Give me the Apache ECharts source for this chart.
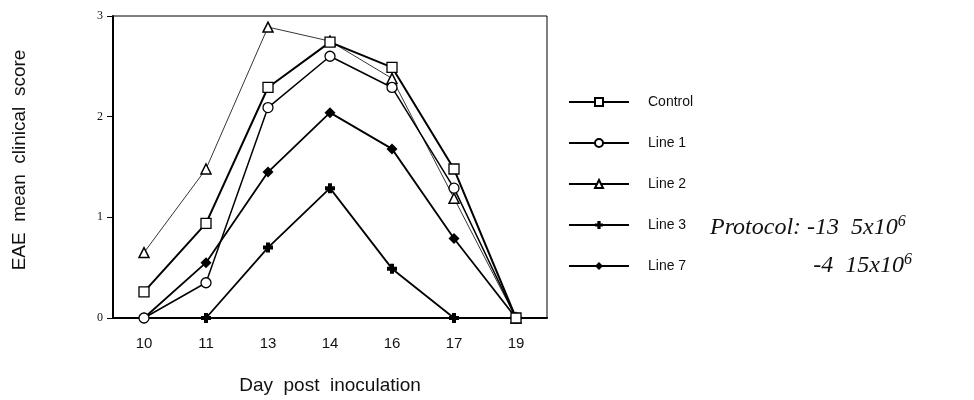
<!DOCTYPE html>
<html>
<head>
<meta charset="utf-8">
<script src="https://cdn.jsdelivr.net/npm/echarts@6/dist/echarts.min.js"></script>
<style>html,body{margin:0;padding:0;background:#fff}#c{width:974px;height:400px}</style>
</head>
<body>
<div id="c"></div>
<script>
var days = ['10', '11', '13', '14', '16', '17', '19'];
var yTicks = [0, 1, 2, 3];
var control = [0.26, 0.94, 2.29, 2.74, 2.49, 1.48, 0];
var line1 = [0, 0.35, 2.09, 2.6, 2.29, 1.29, 0];
var line2 = [0.65, 1.48, 2.89, 2.75, 2.38, 1.19, 0];
var line3 = [null, 0, 0.7, 1.29, 0.49, 0, null];
var line7 = [0, 0.55, 1.45, 2.04, 1.68, 0.79, 0];
var legendNames = ['Control', 'Line 1', 'Line 2', 'Line 3', 'Line 7'];

var crossPath = 'path://M3,0H7V3H10V7H7V10H3V7H0V3H3Z';
var chart = echarts.init(document.getElementById('c'), null, {renderer: 'canvas'});

function mk(name, data, symbol, size, lw, fill, bw) {
  return {
    name: name, type: 'line', data: data, symbol: symbol, symbolSize: size,
    showAllSymbol: true,
    lineStyle: {color: '#000', width: lw},
    itemStyle: {color: fill, borderColor: '#000', borderWidth: bw},
    emphasis: {disabled: true},
    animation: false
  };
}

var supRich = {
  a: {fontFamily: 'Liberation Serif', fontStyle: 'italic', fontSize: 24, fill: '#111', lineHeight: 28},
  b: {fontFamily: 'Liberation Serif', fontStyle: 'italic', fontSize: 16, fill: '#111', verticalAlign: 'top', lineHeight: 28}
};

chart.setOption({
  backgroundColor: '#fff',
  animation: false,
  grid: {left: 113, right: 427, top: 16, bottom: 79, show: true, borderColor: '#000', borderWidth: 1},
  xAxis: {
    type: 'category', data: days, boundaryGap: true,
    axisLine: {lineStyle: {color: '#000', width: 2}},
    axisTick: {alignWithLabel: true, length: 5, lineStyle: {color: '#000', width: 1.5}},
    axisLabel: {color: '#111', fontFamily: 'Liberation Sans', fontSize: 15, margin: 18},
    splitLine: {show: false},
    name: 'Day  post  inoculation', nameLocation: 'middle', nameGap: 58,
    nameTextStyle: {color: '#111', fontFamily: 'Liberation Sans', fontSize: 19}
  },
  yAxis: {
    type: 'value', min: yTicks[0], max: yTicks[yTicks.length - 1], interval: 1,
    axisLine: {show: true, lineStyle: {color: '#000', width: 2}},
    axisTick: {show: true, length: 6, lineStyle: {color: '#000', width: 1}},
    axisLabel: {color: '#111', fontFamily: 'Liberation Serif', fontSize: 12, margin: 10},
    splitLine: {show: false}
  },
  legend: {
    data: legendNames, orient: 'vertical', left: 563, top: 90,
    itemWidth: 60, itemHeight: 10, itemGap: 27,
    selectedMode: false,
    textStyle: {color: '#111', fontFamily: 'Liberation Sans', fontSize: 14, lineHeight: 14, padding: [0, 0, 0, 14]}
  },
  graphic: [
    {type: 'text', x: 20, y: 160, rotation: Math.PI / 2,
     style: {text: 'EAE  mean  clinical  score', fill: '#111', font: '19px "Liberation Sans"', textAlign: 'center', textVerticalAlign: 'middle'}},
    {type: 'text', x: 710, y: 214,
     style: {text: '{a|Protocol: -13  5x10}{b|6}', rich: supRich}},
    {type: 'text', x: 912, y: 252,
     style: {text: '{a|-4  15x10}{b|6}', textAlign: 'right', rich: supRich}}
  ],
  series: [
    mk('Line 3', line3, crossPath, 10, 1.8, '#000', 0),
    mk('Line 7', line7, 'diamond', 11, 1.8, '#000', 0),
    mk('Line 2', line2, 'triangle', 10, 0.8, '#fff', 1.5),
    mk('Line 1', line1, 'circle', 10, 1.5, '#fff', 1.3),
    mk('Control', control, 'rect', 10, 2, '#fff', 1.3)
  ]
});
</script>
</body>
</html>
